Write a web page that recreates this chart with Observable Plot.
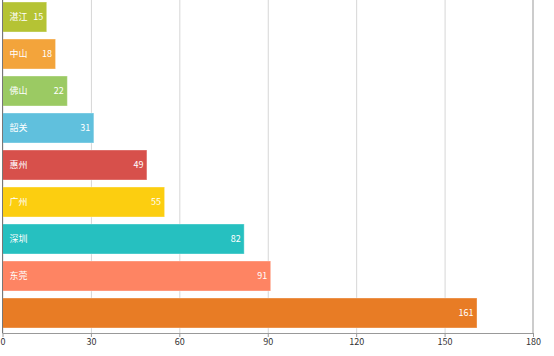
<!DOCTYPE html>
<html>
<head>
<meta charset="utf-8">
<script src="https://cdn.jsdelivr.net/npm/d3@7"></script>
<script src="https://cdn.jsdelivr.net/npm/@observablehq/plot@0.6"></script>
<style>
  html, body { margin: 0; padding: 0; background: #fff; }
  #chart svg { display: block; }
</style>
</head>
<body>
<div id="chart"></div>
<script>
const cities = ["湛江", "中山", "佛山", "韶关", "惠州", "广州", "深圳", "东莞", ""];
const values = [15, 18, 22, 31, 49, 55, 82, 91, 161];
const colors = ["#b5c334", "#f3a43b", "#9bca63", "#60c0dd", "#d7504b", "#fcce10", "#26c0c0", "#fe8463", "#e87c25"];
const xTicks = [0, 30, 60, 90, 120, 150, 180];

const data = cities.map((c, i) => ({city: c, value: values[i], color: colors[i]}));
const font = "'Noto Sans CJK SC', 'Noto Sans', sans-serif";

// frame lines and band-boundary ticks on the y axis
function axisLines(index, scales, values, dim) {
  const g = d3.create("svg:g");
  const x0 = scales.x(0);
  const xMax = scales.x(180);
  const bottom = dim.height - dim.marginBottom;
  const step = scales.y.step ?? (scales.y.bandwidth / 0.8);
  // right edge line (darker grid at max)
  g.append("line")
    .attr("x1", xMax).attr("x2", xMax)
    .attr("y1", dim.marginTop).attr("y2", bottom)
    .attr("stroke", "#bbb").attr("stroke-width", 1.5);
  // bottom axis line
  g.append("line")
    .attr("x1", x0).attr("x2", xMax)
    .attr("y1", bottom + 0.5).attr("y2", bottom + 0.5)
    .attr("stroke", "#999");
  // y axis line
  g.append("line")
    .attr("x1", x0).attr("x2", x0)
    .attr("y1", dim.marginTop).attr("y2", bottom)
    .attr("stroke", "#777");
  // y ticks at band boundaries
  const bw = scales.y.bandwidth;
  cities.forEach((c) => {
    const yb = scales.y(c) + bw + (step - bw) / 2;
    if (yb < bottom - 2) {
      g.append("line")
        .attr("x1", x0 - 3).attr("x2", x0)
        .attr("y1", Math.round(yb) + 0.5).attr("y2", Math.round(yb) + 0.5)
        .attr("stroke", "#777");
    }
  });
  return g.node();
}

const chart = Plot.plot({
  width: 554,
  height: 356,
  marginLeft: 2.5,
  marginRight: 21,
  marginTop: 0,
  marginBottom: 23,
  style: {fontFamily: font, fontSize: "9px", background: "#fff"},
  x: {domain: [0, 180], ticks: xTicks, label: null},
  y: {domain: cities, paddingInner: 0.2, paddingOuter: 0, insetTop: 1, insetBottom: 4, axis: null},
  marks: [
    Plot.gridX(xTicks.slice(0, -1), {stroke: "#d6d6d6", strokeOpacity: 1}),
    Plot.axisX({ticks: xTicks, tickSize: 4, tickPadding: 1, stroke: "#999", fill: "#333", fontSize: 9, label: null}),
    Plot.barX(data, {x: "value", y: "city", fill: "color", stroke: "#fff", strokeOpacity: 0.35, strokeWidth: 1}),
    Plot.text(data, {x: 0, y: "city", text: "city", dx: 6.5, textAnchor: "start", fill: "#fff", fontSize: 9}),
    Plot.text(data, {x: "value", y: "city", text: (d) => String(d.value), dx: -4, textAnchor: "end", fill: "#fff", fontSize: 9}),
    axisLines
  ]
});

document.getElementById("chart").appendChild(chart);
</script>
</body>
</html>
